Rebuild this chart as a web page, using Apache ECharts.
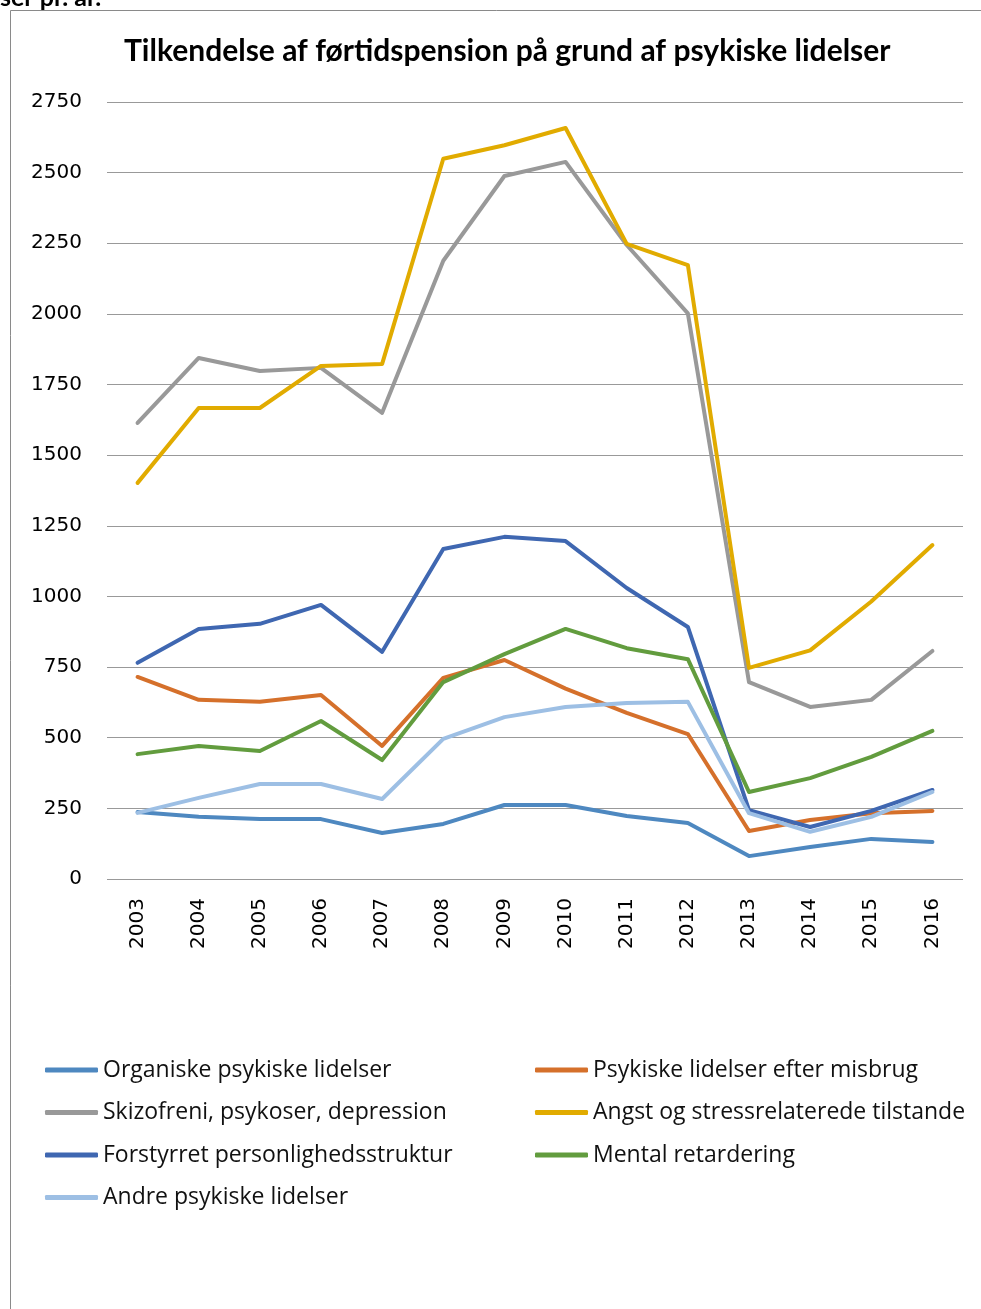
<!DOCTYPE html>
<html>
<head>
<meta charset="utf-8">
<script src="https://cdn.jsdelivr.net/npm/echarts@6/dist/echarts.min.js"></script>
<style>
html,body{margin:0;padding:0;background:#fff;}
#c{width:981px;height:1309px;}
</style>
</head>
<body>
<div id="c"></div>
<script>
const years = ['2003','2004','2005','2006','2007','2008','2009','2010','2011','2012','2013','2014','2015','2016'];
const organiske   = [237, 220, 212, 212, 163, 195, 262, 262, 223, 198, 81, 113, 142, 131];
const misbrug     = [715, 634, 627, 651, 471, 712, 775, 674, 588, 513, 170, 209, 233, 241];
const skizofreni  = [1614, 1844, 1798, 1809, 1650, 2188, 2488, 2538, 2244, 2002, 697, 609, 634, 807];
const angst       = [1402, 1667, 1667, 1816, 1823, 2549, 2597, 2658, 2248, 2173, 747, 809, 982, 1182];
const forstyrret  = [765, 885, 903, 970, 804, 1168, 1211, 1196, 1030, 892, 244, 184, 241, 315];
const mental      = [442, 471, 453, 559, 421, 697, 796, 885, 817, 778, 308, 357, 432, 524];
const andre       = [234, 287, 336, 336, 283, 496, 573, 609, 623, 627, 233, 167, 220, 308];

const names = [
  'Organiske psykiske lidelser',
  'Psykiske lidelser efter misbrug',
  'Skizofreni, psykoser, depression',
  'Angst og stressrelaterede tilstande',
  'Forstyrret personlighedsstruktur',
  'Mental retardering',
  'Andre psykiske lidelser'
];
const dataSets = [organiske, misbrug, skizofreni, angst, forstyrret, mental, andre];
const colors = ['#4E88C0', '#D5702B', '#999999', '#E1AB00', '#3F67B1', '#629C3E', '#9DBFE4'];

const chart = echarts.init(document.getElementById('c'), null, {renderer: 'canvas'});
const legendText = {fontFamily: 'Open Sans', fontSize: 23, color: '#111'};
const option = {
  animation: false,
  backgroundColor: '#fff',
  title: {
    text: 'Tilkendelse af førtidspension på grund af psykiske lidelser',
    left: 119,
    top: 31,
    textStyle: {fontFamily: 'Lato', fontWeight: 'bold', fontSize: 30, color: '#000'}
  },
  graphic: [
    {type: 'rect', shape: {x: 10.5, y: 10.5, width: 1200, height: 1500}, style: {fill: 'none', stroke: '#8a8a8a', lineWidth: 1}, silent: true},
    {type: 'text', x: 0, y: 10, style: {text: 'ser pr. år.', font: 'bold 25px Lato', fill: '#000', verticalAlign: 'bottom'}}
  ],
  grid: {left: 107, right: 18, top: 102, bottom: 430, containLabel: false},
  xAxis: {
    type: 'category',
    data: years,
    boundaryGap: true,
    axisLine: {show: false},
    axisTick: {show: false},
    axisLabel: {rotate: 90, margin: 19, fontFamily: 'DejaVu Sans', fontSize: 20, color: '#000'}
  },
  yAxis: {
    type: 'value',
    min: 0,
    max: 2750,
    interval: 250,
    axisLine: {show: false},
    axisTick: {show: false},
    axisLabel: {margin: 25, fontFamily: 'DejaVu Sans', fontSize: 20, color: '#000', formatter: v => String(v)},
    splitLine: {lineStyle: {color: '#999', width: 1}}
  },
  legend: [
    {
      orient: 'vertical', left: 45, top: 1058.5, itemGap: 19.5, padding: 0,
      itemWidth: 53, itemHeight: 5, icon: 'roundRect',
      textStyle: legendText,
      data: [names[0], names[2], names[4], names[6]]
    },
    {
      orient: 'vertical', left: 535, top: 1058.5, itemGap: 19.5, padding: 0,
      itemWidth: 53, itemHeight: 5, icon: 'roundRect',
      textStyle: legendText,
      data: [names[1], names[3], names[5]]
    }
  ],
  series: names.map((n, i) => ({
    name: n,
    type: 'line',
    data: dataSets[i],
    symbol: 'none',
    lineStyle: {width: 4, color: colors[i], cap: 'round', join: 'round'},
    itemStyle: {color: colors[i]},
    z: 2 + i
  }))
};
chart.setOption(option);
</script>
</body>
</html>
